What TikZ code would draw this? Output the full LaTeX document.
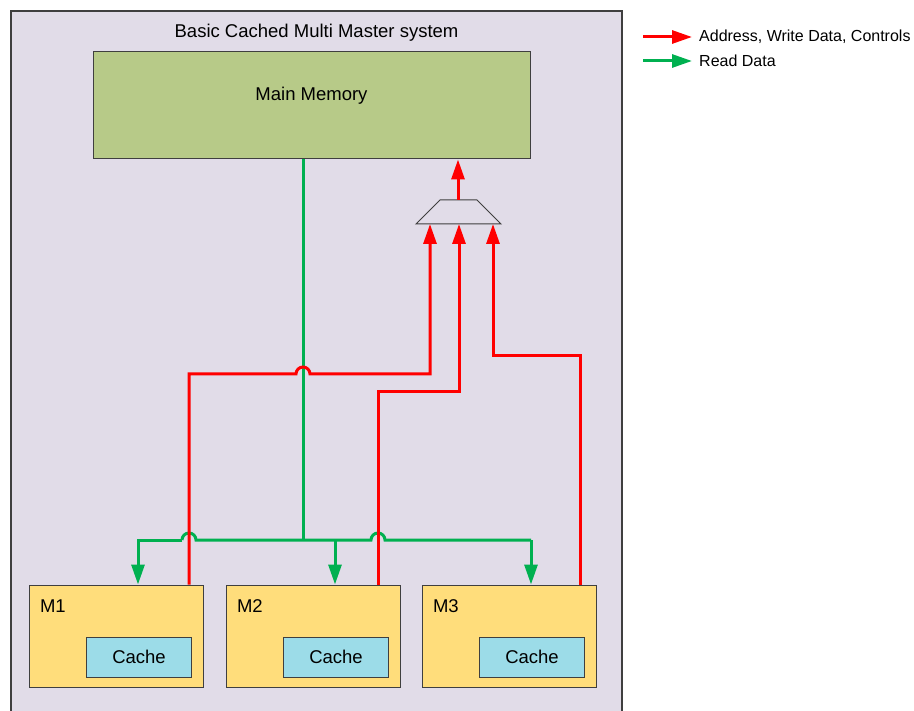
\documentclass[tikz,border=0pt]{standalone}
\usepackage{fontspec}
\setmainfont{Liberation Sans}
\usepackage{tikz}
\usetikzlibrary{arrows.meta,positioning,shapes.geometric,calc}
\definecolor{sysbg}{HTML}{E1DCE8}
\definecolor{memgreen}{HTML}{B7CA88}
\definecolor{masteryellow}{HTML}{FFDD7B}
\definecolor{cachecyan}{HTML}{9CDCE8}
\definecolor{adrred}{HTML}{FF0000}
\definecolor{rdgreen}{HTML}{00B050}
\definecolor{frame}{HTML}{3F3F3F}

\begin{document}
\begin{tikzpicture}[x=1pt,y=-1pt,font=\fontsize{18.5}{22}\selectfont,
  >={Triangle[length=20pt,width=13pt]}]
  \tikzset{block/.style={draw=frame,line width=1pt,inner sep=0pt},
    master/.style={block,fill=masteryellow,minimum width=174pt,minimum height=102pt},
    cache/.style={block,fill=cachecyan,minimum width=105pt,minimum height=40pt},
    wrline/.style={draw=adrred,line width=3pt},
    rdline/.style={draw=rdgreen,line width=3pt},
    hop/.style={insert path={arc[start angle=180,end angle=360,radius=7]}}}
  \useasboundingbox (0,0) rectangle (914,711);
  % system frame, runs off the bottom edge
  \draw[draw=frame,line width=1.3pt,fill=sysbg] (11,11) rectangle (622,714);
  \node (title) at (316.5,33) {Basic Cached Multi Master system};
  \node[block,fill=memgreen,minimum width=437pt,minimum height=107pt] (mem) at (311.5,105.5) {};
  \node (memlabel) at (311.5,95.5) {Main Memory};
  % arbiter
  \coordinate (muxout) at (458,200);
  \coordinate (muxin) at (458,224);
  \draw[draw=frame,line width=1pt] (416,224) -- (440,200) -- (477,200) -- (501,224) -- cycle;
  % masters with their caches
  \node[master] (m1) at (116,636) {};
  \node[master] (m2) at (313,636) {};
  \node[master] (m3) at (509,636) {};
  \foreach \i in {1,2,3} {
    \node[cache] (c\i) at ($(m\i)+(23,21)$) {Cache};
    \node[anchor=west] (l\i) at ($(m\i.north west)+(8,22)$) {M\i};
  }
  % read data bus
  \draw[rdline] (303,0 |- mem.south) -- (303,540);
  \draw[rdline,->] (182,540) -- (138,540) -- (138,0 |- m1.north);
  \draw[rdline] (182,540) [hop] -- (371,540) [hop] -- (531,540);
  \draw[rdline,->] (335,540) -- (335,0 |- m2.north);
  \draw[rdline,->] (531,540) -- (531,0 |- m3.north);
  % address / write data into the arbiter
  \draw[wrline,->] (189,0 |- m1.north) -- (189,374) -- (296,374) [hop]
    -- (430,374) -- (430,0 |- muxin);
  \draw[wrline,->] (378,0 |- m2.north) -- (378,392) -- (459,392) -- (459,0 |- muxin);
  \draw[wrline,->] (580,0 |- m3.north) -- (580,356) -- (493,356) -- (493,0 |- muxin);
  \draw[wrline,->] (muxout) -- (muxout |- mem.south);
  % legend
  \begin{scope}[font=\fontsize{16}{19}\selectfont]
    \node[anchor=west,inner sep=3pt] (legwr) at (696,37) {Address, Write Data, Controls};
    \node[anchor=west,inner sep=3pt] (legrd) at (696,61) {Read Data};
  \end{scope}
  \coordinate (legwrstart) at (643,37);
  \coordinate (legrdstart) at (643,61);
  \draw[wrline,->,shorten >=4pt] (legwrstart) -- (legwr.west);
  \draw[rdline,->,shorten >=4pt] (legrdstart) -- (legrd.west);
\end{tikzpicture}
\end{document}
